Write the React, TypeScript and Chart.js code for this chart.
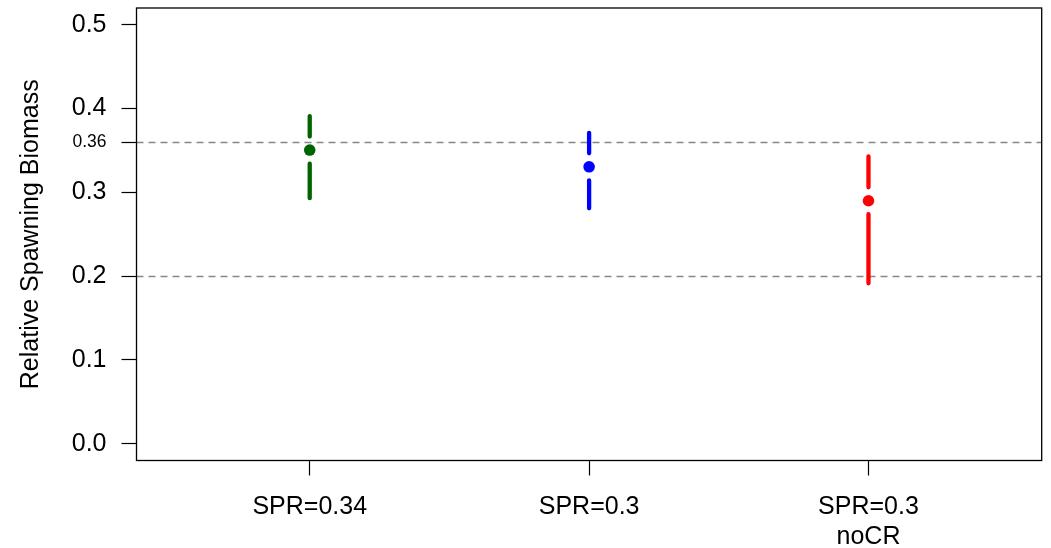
import React, { useEffect, useRef } from "react";
import { Chart, registerables } from "chart.js";

Chart.register(...registerables);

const categories: string[][] = [["SPR=0.34"], ["SPR=0.3"], ["SPR=0.3", "noCR"]];
const medians: number[] = [0.3505, 0.3305, 0.290];
const lowers: number[] = [0.293, 0.281, 0.1915];
const uppers: number[] = [0.391, 0.371, 0.343];
const colors: string[] = ["#006400", "#0000FF", "#FF0000"];
const yTicks: number[] = [0, 0.1, 0.2, 0.3, 0.36, 0.4, 0.5];
const yTickLabels: string[] = ["0.0", "0.1", "0.2", "0.3", "0.36", "0.4", "0.5"];
const refLines: number[] = [0.36, 0.2];

const FONT = "'Liberation Sans', Arial, Helvetica, sans-serif";

const boxPlugin = {
  id: "boxPlugin",
  beforeDatasetsDraw(chart: any) {
    const { ctx, chartArea, scales } = chart;
    const y = scales.y;
    ctx.save();
    ctx.strokeStyle = "#888888";
    ctx.lineWidth = 1.4;
    ctx.setLineDash([7, 5]);
    refLines.forEach((v) => {
      const py = Math.round(y.getPixelForValue(v)) + 0.5;
      ctx.beginPath();
      ctx.moveTo(chartArea.left, py);
      ctx.lineTo(chartArea.right, py);
      ctx.stroke();
    });
    ctx.setLineDash([]);
    // intervals with a gap around the point
    const x = scales.x;
    const gap = 13.5;
    medians.forEach((m, i) => {
      const px = x.getPixelForValue(i + 1);
      const pm = y.getPixelForValue(m);
      const pu = y.getPixelForValue(uppers[i]);
      const pl = y.getPixelForValue(lowers[i]);
      ctx.strokeStyle = colors[i];
      ctx.lineWidth = 4.3;
      ctx.lineCap = "round";
      ctx.beginPath();
      ctx.moveTo(px, pu);
      ctx.lineTo(px, pm - gap);
      ctx.moveTo(px, pm + gap);
      ctx.lineTo(px, pl);
      ctx.stroke();
    });
    ctx.restore();
  },
  afterDraw(chart: any) {
    const { ctx, chartArea } = chart;
    ctx.save();
    ctx.strokeStyle = "#000000";
    ctx.lineWidth = 1.3;
    ctx.strokeRect(chartArea.left, chartArea.top, chartArea.right - chartArea.left, chartArea.bottom - chartArea.top);
    ctx.restore();
  },
};

export default function App() {
  const ref = useRef<HTMLCanvasElement | null>(null);
  useEffect(() => {
    if (!ref.current) return;
    const chart = new Chart(ref.current, {
      type: "scatter",
      data: {
        datasets: [
          {
            data: medians.map((m, i) => ({ x: i + 1, y: m })),
            backgroundColor: colors,
            pointBackgroundColor: colors,
            pointBorderWidth: 0,
            pointRadius: 5.8,
            pointHoverRadius: 5.8,
          },
        ],
      },
      options: {
        animation: false,
        responsive: true,
        maintainAspectRatio: false,
        layout: { padding: { top: 8, right: 9.3, left: 0, bottom: 0 } },
        plugins: { legend: { display: false }, tooltip: { enabled: false } },
        scales: {
          x: {
            type: "linear",
            min: 0.38,
            max: 3.62,
            afterBuildTicks: (scale: any) => {
              scale.ticks = categories.map((_, i) => ({ value: i + 1 }));
            },
            afterFit: (scale: any) => {
              scale.height = 87.5;
              scale.paddingLeft = 0;
              scale.paddingRight = 0;
            },
            grid: {
              display: true,
              drawOnChartArea: false,
              drawTicks: true,
              tickLength: 15,
              tickColor: "#000000",
              tickWidth: 1.2,
            },
            border: { display: false },
            ticks: {
              autoSkip: false,
              maxRotation: 0,
              padding: 16.5,
              color: "#000000",
              font: { family: FONT, size: 25, lineHeight: 1.2 },
              callback: (_v: any, index: number) => categories[index],
            },
          },
          y: {
            type: "linear",
            min: -0.02,
            max: 0.52,
            afterBuildTicks: (scale: any) => {
              scale.ticks = yTicks.map((v) => ({ value: v }));
            },
            afterFit: (scale: any) => {
              scale.width = 136.5;
              scale.paddingTop = 0;
              scale.paddingBottom = 0;
            },
            grid: {
              display: true,
              drawOnChartArea: false,
              drawTicks: true,
              tickLength: 15,
              tickColor: "#000000",
              tickWidth: 1.2,
            },
            border: { display: false },
            title: {
              display: true,
              text: "Relative Spawning Biomass",
              color: "#000000",
              font: { family: FONT, size: 25, lineHeight: 1.2 },
              padding: { top: 16, bottom: 0 },
            },
            ticks: {
              autoSkip: false,
              padding: 15,
              color: "#000000",
              font: (ctx: any) => ({
                family: FONT,
                size: ctx.tick && ctx.tick.value === 0.36 ? 17.5 : 25,
              }),
              callback: (_v: any, index: number) => yTickLabels[index],
            },
          },
        },
      },
      plugins: [boxPlugin],
    });
    return () => chart.destroy();
  }, []);
  return (
    <div style={{ position: "absolute", left: 0, top: 0, width: 1051, height: 548, background: "#ffffff" }}>
      <canvas ref={ref} />
    </div>
  );
}
